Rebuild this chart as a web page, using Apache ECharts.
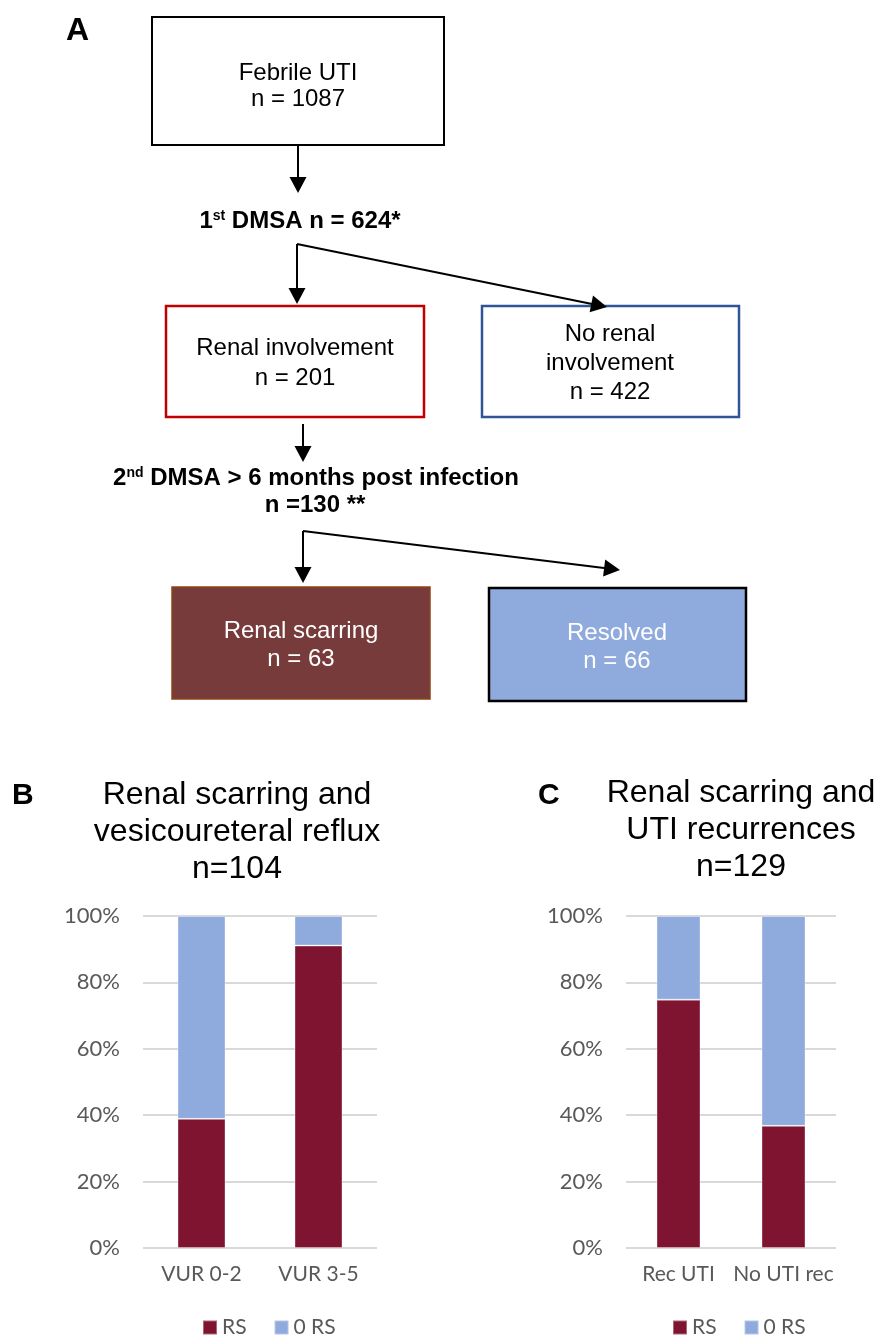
<!DOCTYPE html>
<html><head><meta charset="utf-8">
<script src="https://cdn.jsdelivr.net/npm/echarts@6/dist/echarts.min.js"></script>
<style>html,body{margin:0;padding:0;background:#fff}#c{width:880px;height:1337px}</style>
</head><body><div id="c"></div>
<script>
// ---- Data ----
const flowLabels = ['Febrile UTI', 'Renal involvement', 'No renal involvement', 'Renal scarring', 'Resolved'];
const flowCounts = [1087, 201, 422, 63, 66];
const dmsaCounts = [624, 130];
const catB = ['VUR 0-2', 'VUR 3-5'];
const rsB = [38.9, 91.1];
const noRsB = [61.1, 8.9];
const nB = 104;
const catC = ['Rec UTI', 'No UTI rec'];
const rsC = [74.8, 36.8];
const noRsC = [25.2, 63.2];
const nC = 129;
const seriesNames = ['RS', '0 RS'];

// ---- Styles ----
const ARIAL = '"Liberation Sans", Arial, sans-serif';
const CAL = 'Lato, "Open Sans", sans-serif';
const RS_COLOR = '#7F1431';
const NORS_COLOR = '#8FAADC';
const AX_COLOR = '#595959';

function txt(x, y, text, size, opts) {
  opts = opts || {};
  return {
    type: 'text', z: 10,
    style: Object.assign({
      x: x, y: y, text: text,
      fontSize: size, fontFamily: opts.family || ARIAL,
      fontWeight: opts.weight || 'normal',
      fill: opts.fill || '#000',
      textAlign: opts.align || 'center', align: opts.align || 'center',
      textVerticalAlign: 'middle', verticalAlign: 'middle'
    }, opts.extra || {})
  };
}
function box(x, y, w, h, stroke, lw, fill) {
  return { type: 'rect', z: 5, shape: { x: x, y: y, width: w, height: h },
    style: { fill: fill || '#fff', stroke: stroke, lineWidth: lw } };
}
function arrow(x1, y1, x2, y2) {
  const L = 16, W = 8.5;
  const dx = x2 - x1, dy = y2 - y1, d = Math.hypot(dx, dy);
  const ux = dx / d, uy = dy / d, px = -uy, py = ux;
  const bx = x2 - ux * L, by = y2 - uy * L;
  return [
    { type: 'line', z: 6, shape: { x1: x1, y1: y1, x2: bx + ux * 2, y2: by + uy * 2 },
      style: { stroke: '#000', lineWidth: 2 } },
    { type: 'polygon', z: 6, shape: { points: [[x2, y2], [bx + px * W, by + py * W], [bx - px * W, by - py * W]] },
      style: { fill: '#000' } }
  ];
}

const g = [];
// Panel labels
g.push(txt(66, 31, 'A', 32, { weight: 'bold', align: 'left' }));
g.push(txt(12, 796, 'B', 30, { weight: 'bold', align: 'left' }));
g.push(txt(538, 796, 'C', 30, { weight: 'bold', align: 'left' }));

// Flowchart boxes
g.push(box(152, 17, 292, 128, '#000', 2));
g.push(txt(298, 73, flowLabels[0], 24));
g.push(txt(298, 99, 'n = ' + flowCounts[0], 24));

g.push(...arrow(298, 146, 298, 193));
g.push({
  type: 'text', z: 10,
  style: {
    x: 300, y: 221, text: '1{sup|st} DMSA n = ' + dmsaCounts[0] + '*',
    fontSize: 24, fontWeight: 'bold', fontFamily: ARIAL, fill: '#000',
    textAlign: 'center', align: 'center', textVerticalAlign: 'middle', verticalAlign: 'middle',
    rich: { sup: { fontSize: 14, fontWeight: 'bold', fontFamily: ARIAL, verticalAlign: 'top', fill: '#000' } }
  }
});
g.push(...arrow(297, 244, 297, 304));
g.push(...arrow(297, 244, 607, 307));

g.push(box(166, 306, 258, 111, '#C00000', 2.5));
g.push(txt(295, 348, flowLabels[1], 24));
g.push(txt(295, 378, 'n = ' + flowCounts[1], 24));

g.push(box(482, 306, 257, 111, '#2F5597', 2.5));
g.push(txt(610, 334, 'No renal', 24));
g.push(txt(610, 363, 'involvement', 24));
g.push(txt(610, 392, 'n = ' + flowCounts[2], 24));

g.push(...arrow(303, 424, 303, 462));
g.push({
  type: 'text', z: 10,
  style: {
    x: 316, y: 478, text: '2{sup|nd} DMSA > 6 months post infection',
    fontSize: 24, fontWeight: 'bold', fontFamily: ARIAL, fill: '#000',
    textAlign: 'center', align: 'center', textVerticalAlign: 'middle', verticalAlign: 'middle',
    rich: { sup: { fontSize: 14, fontWeight: 'bold', fontFamily: ARIAL, verticalAlign: 'top', fill: '#000' } }
  }
});
g.push(txt(315, 505, 'n =' + dmsaCounts[1] + ' **', 24, { weight: 'bold' }));
g.push(...arrow(303, 531, 303, 583));
g.push(...arrow(303, 531, 620, 570));

g.push(box(172, 587, 258, 112, '#8B4513', 1.5, '#763B3A'));
g.push(txt(301, 631, flowLabels[3], 24, { fill: '#fff' }));
g.push(txt(301, 659, 'n = ' + flowCounts[3], 24, { fill: '#fff' }));

g.push(box(489, 588, 257, 113, '#000', 2.5, '#8FAADC'));
g.push(txt(617, 633, flowLabels[4], 24, { fill: '#fff' }));
g.push(txt(617, 661, 'n = ' + flowCounts[4], 24, { fill: '#fff' }));

// Chart titles
g.push(txt(237, 795, 'Renal scarring and', 32));
g.push(txt(237, 832, 'vesicoureteral reflux', 32));
g.push(txt(237, 869, 'n=' + nB, 32));
g.push(txt(741, 793, 'Renal scarring and', 32));
g.push(txt(741, 830, 'UTI recurrences', 32));
g.push(txt(741, 867, 'n=' + nC, 32));

function yAx(gi) {
  return {
    type: 'value', gridIndex: gi, min: 0, max: 100, interval: 20,
    axisLine: { show: false }, axisTick: { show: false },
    axisLabel: { formatter: '{value}%', margin: 23, fontFamily: CAL, fontSize: 22, color: AX_COLOR },
    splitLine: { lineStyle: { color: '#D9D9D9', width: 2 } }
  };
}
function xAx(gi, cats) {
  return {
    type: 'category', gridIndex: gi, data: cats,
    axisLine: { show: false }, axisTick: { show: false },
    axisLabel: { margin: 16, fontFamily: CAL, fontSize: 21, color: AX_COLOR, interval: 0 }
  };
}
function bar(name, gi, data, color, w) {
  return {
    name: name, type: 'bar', stack: 's' + gi, xAxisIndex: gi, yAxisIndex: gi,
    data: data, barWidth: w, itemStyle: { color: color, borderColor: 'rgba(255,255,255,0.35)', borderWidth: 1 },
    animation: false
  };
}
function leg(left) {
  return {
    data: seriesNames, left: left, top: 1317, padding: 0,
    itemWidth: 14, itemHeight: 14, itemGap: 27, icon: 'rect',
    textStyle: { fontFamily: CAL, fontSize: 21, color: AX_COLOR }
  };
}

const chart = echarts.init(document.getElementById('c'), null, { renderer: 'canvas' });
chart.setOption({
  animation: false,
  backgroundColor: '#fff',
  grid: [
    { left: 143, top: 916, width: 234, height: 332 },
    { left: 626, top: 916, width: 210, height: 332 }
  ],
  xAxis: [xAx(0, catB), xAx(1, catC)],
  yAxis: [yAx(0), yAx(1)],
  legend: [leg(202), leg(672)],
  series: [
    bar(seriesNames[0], 0, rsB, RS_COLOR, 48),
    bar(seriesNames[1], 0, noRsB, NORS_COLOR, 48),
    bar(seriesNames[0], 1, rsC, RS_COLOR, 44),
    bar(seriesNames[1], 1, noRsC, NORS_COLOR, 44)
  ],
  graphic: { elements: g }
});
</script>
</body></html>
